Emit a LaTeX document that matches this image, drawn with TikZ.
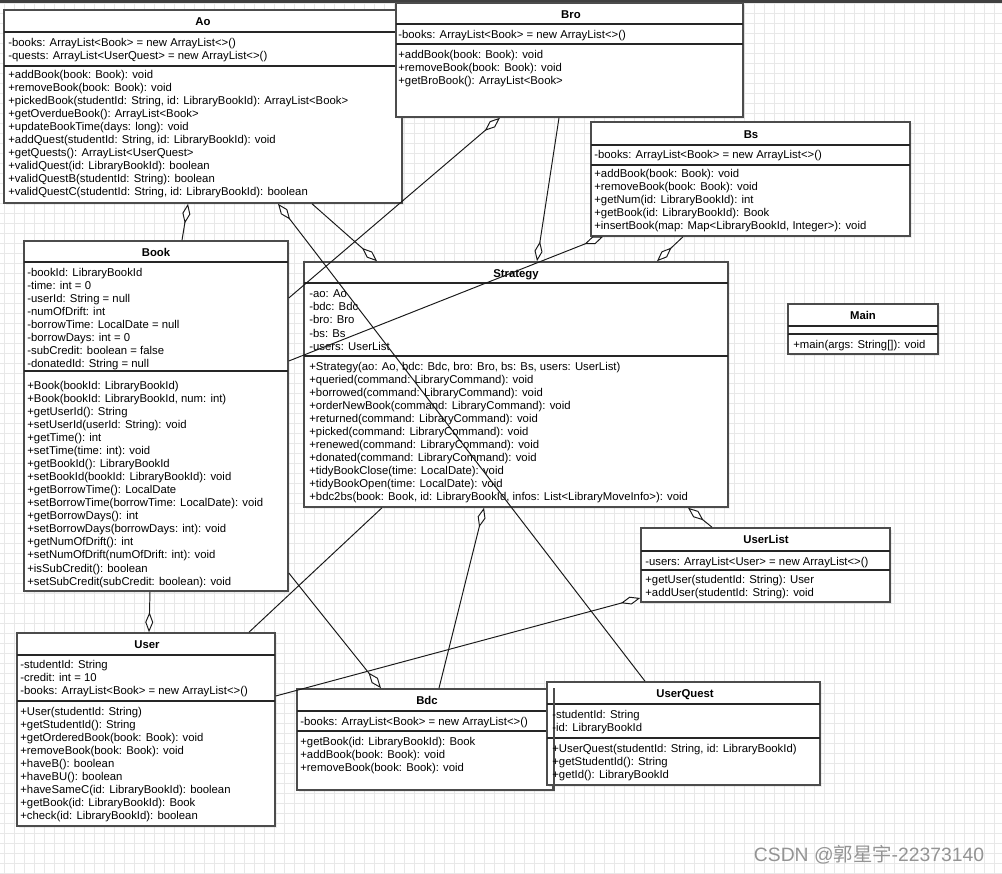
\documentclass[tikz,border=0pt]{standalone}
\usepackage{fontspec}
\setmainfont{Liberation Sans}
\newfontfamily\cjkfont{Noto Sans CJK SC}
\usetikzlibrary{arrows.meta,fit,shadows}
\newcommand{\umlfont}{\fontsize{6.45pt}{7.43pt}\selectfont}

\begin{document}
\begin{tikzpicture}[
    x=0.02cm, y=-0.02cm,
    every node/.style={font=\umlfont},
    classbox/.style={rectangle, draw=black!70, line width=0.9pt, fill=white, inner sep=0pt,
        drop shadow={opacity=0.12, shadow xshift=1.2pt, shadow yshift=-1.2pt}},
    classname/.style={font=\umlfont\bfseries, inner sep=0pt, text height=4.7pt, text depth=0pt},
    members/.style={anchor=north west, align=left, inner sep=0pt},
    sepline/.style={draw=black!85, line width=0.6pt},
    gridline/.style={draw=black!9, line width=0.4pt},
    assoc/.style={draw=black!90, line width=0.55pt},
    aggr/.style={assoc, {Diamond[fill=white, length=4mm, width=1.6mm]}-},
    watermark/.style={font=\fontsize{11pt}{13pt}\selectfont, text=black!42}
]

% background and grid
\useasboundingbox (0,0) rectangle (1002,874);
\fill[white] (0,0) rectangle (1002,874);
\foreach \gx in {4,14,...,1000} \draw[gridline] (\gx,0) -- (\gx,874);
\foreach \gy in {3,13,...,873} \draw[gridline] (0,\gy) -- (1002,\gy);
\fill[black!75] (0,0) rectangle (1002,3);

% === Ao ===
\node[classbox, fit={(4,10) (402,203)}] (ao) {};
\node[classname] (aoname) at (203,21) {Ao};
\draw[sepline] (4,32) -- (402,32);
\draw[sepline] (4,66) -- (402,66);
\node[members] (aoattr) at (8,37.7) {-books: ArrayList<Book> = new ArrayList<>()\\
-quests: ArrayList<UserQuest> = new ArrayList<>()};
\node[members] (aoops) at (8,69.7) {+addBook(book: Book): void\\
+removeBook(book: Book): void\\
+pickedBook(studentId: String, id: LibraryBookId): ArrayList<Book>\\
+getOverdueBook(): ArrayList<Book>\\
+updateBookTime(days: long): void\\
+addQuest(studentId: String, id: LibraryBookId): void\\
+getQuests(): ArrayList<UserQuest>\\
+validQuest(id: LibraryBookId): boolean\\
+validQuestB(studentId: String): boolean\\
+validQuestC(studentId: String, id: LibraryBookId): boolean};

% === Bro ===
\node[classbox, fit={(396,3) (743,117)}] (bro) {};
\node[classname] (broname) at (571,14) {Bro};
\draw[sepline] (396,24) -- (743,24);
\draw[sepline] (396,44) -- (743,44);
\node[members] (broattr) at (398,29.7) {-books: ArrayList<Book> = new ArrayList<>()};
\node[members] (broops) at (398,49.7) {+addBook(book: Book): void\\
+removeBook(book: Book): void\\
+getBroBook(): ArrayList<Book>};

% === Bs ===
\node[classbox, fit={(591,122) (910,236)}] (bs) {};
\node[classname] (bsname) at (751,134) {Bs};
\draw[sepline] (591,145) -- (910,145);
\draw[sepline] (591,165) -- (910,165);
\node[members] (bsattr) at (594,149.7) {-books: ArrayList<Book> = new ArrayList<>()};
\node[members] (bsops) at (594,168.7) {+addBook(book: Book): void\\
+removeBook(book: Book): void\\
+getNum(id: LibraryBookId): int\\
+getBook(id: LibraryBookId): Book\\
+insertBook(map: Map<LibraryBookId, Integer>): void};

% === Book ===
\node[classbox, fit={(24,241) (288,591)}] (book) {};
\node[classname] (bookname) at (156,252) {Book};
\draw[sepline] (24,262) -- (288,262);
\draw[sepline] (24,371) -- (288,371);
\node[members] (bookattr) at (27,267.7) {-bookId: LibraryBookId\\
-time: int = 0\\
-userId: String = null\\
-numOfDrift: int\\
-borrowTime: LocalDate = null\\
-borrowDays: int = 0\\
-subCredit: boolean = false\\
-donatedId: String = null};
\node[members] (bookops) at (27,380.7) {+Book(bookId: LibraryBookId)\\
+Book(bookId: LibraryBookId, num: int)\\
+getUserId(): String\\
+setUserId(userId: String): void\\
+getTime(): int\\
+setTime(time: int): void\\
+getBookId(): LibraryBookId\\
+setBookId(bookId: LibraryBookId): void\\
+getBorrowTime(): LocalDate\\
+setBorrowTime(borrowTime: LocalDate): void\\
+getBorrowDays(): int\\
+setBorrowDays(borrowDays: int): void\\
+getNumOfDrift(): int\\
+setNumOfDrift(numOfDrift: int): void\\
+isSubCredit(): boolean\\
+setSubCredit(subCredit: boolean): void};

% === Strategy ===
\node[classbox, fit={(304,262) (728,507)}] (strategy) {};
\node[classname] (strategyname) at (516,273) {Strategy};
\draw[sepline] (304,283) -- (728,283);
\draw[sepline] (304,356) -- (728,356);
\node[members] (strategyattr) at (309,289.7) {-ao: Ao\\
-bdc: Bdc\\
-bro: Bro\\
-bs: Bs\\
-users: UserList};
\node[members] (strategyops) at (309,361.7) {+Strategy(ao: Ao, bdc: Bdc, bro: Bro, bs: Bs, users: UserList)\\
+queried(command: LibraryCommand): void\\
+borrowed(command: LibraryCommand): void\\
+orderNewBook(command: LibraryCommand): void\\
+returned(command: LibraryCommand): void\\
+picked(command: LibraryCommand): void\\
+renewed(command: LibraryCommand): void\\
+donated(command: LibraryCommand): void\\
+tidyBookClose(time: LocalDate): void\\
+tidyBookOpen(time: LocalDate): void\\
+bdc2bs(book: Book, id: LibraryBookId, infos: List<LibraryMoveInfo>): void};

% === Main ===
\node[classbox, fit={(788,304) (938,354)}] (main) {};
\node[classname] (mainname) at (863,315) {Main};
\draw[sepline] (788,326) -- (938,326);
\draw[sepline] (788,334) -- (938,334);
\node[members] (mainops) at (793,339.7) {+main(args: String[]): void};

% === UserList ===
\node[classbox, fit={(641,528) (890,602)}] (userlist) {};
\node[classname] (userlistname) at (766,539) {UserList};
\draw[sepline] (641,551) -- (890,551);
\draw[sepline] (641,570) -- (890,570);
\node[members] (userlistattr) at (645,556.7) {-users: ArrayList<User> = new ArrayList<>()};
\node[members] (userlistops) at (645,574.7) {+getUser(studentId: String): User\\
+addUser(studentId: String): void};

% === User ===
\node[classbox, fit={(17,633) (275,826)}] (user) {};
\node[classname] (username) at (147,644) {User};
\draw[sepline] (17,655) -- (275,655);
\draw[sepline] (17,701) -- (275,701);
\node[members] (userattr) at (20,659.7) {-studentId: String\\
-credit: int = 10\\
-books: ArrayList<Book> = new ArrayList<>()};
\node[members] (userops) at (20,706.7) {+User(studentId: String)\\
+getStudentId(): String\\
+getOrderedBook(book: Book): void\\
+removeBook(book: Book): void\\
+haveB(): boolean\\
+haveBU(): boolean\\
+haveSameC(id: LibraryBookId): boolean\\
+getBook(id: LibraryBookId): Book\\
+check(id: LibraryBookId): boolean};

% === Bdc ===
\node[classbox, fit={(297,689) (553,790)}] (bdc) {};
\node[classname] (bdcname) at (427,700) {Bdc};
\draw[sepline] (297,711) -- (553,711);
\draw[sepline] (297,731) -- (553,731);
\node[members] (bdcattr) at (300,716.7) {-books: ArrayList<Book> = new ArrayList<>()};
\node[members] (bdcops) at (300,736.7) {+getBook(id: LibraryBookId): Book\\
+addBook(book: Book): void\\
+removeBook(book: Book): void};

% === UserQuest ===
\node[classbox, fit={(547,682) (820,785)}] (userquest) {};
\node[classname] (userquestname) at (685,693) {UserQuest};
\draw[sepline] (547,704) -- (820,704);
\draw[sepline] (547,738) -- (820,738);
\draw[draw=black!70, line width=0.9pt] (bdc.north east) -- (bdc.south east);
\node[members] (userquestattr) at (552,709.7) {-studentId: String\\
-id: LibraryBookId};
\node[members] (userquestops) at (552,743.7) {+UserQuest(studentId: String, id: LibraryBookId)\\
+getStudentId(): String\\
+getId(): LibraryBookId};

% === CONNECTORS ===

% Ao
\draw[aggr] (188,0 |- ao.south) -- (182,0 |- book.north);
\draw[aggr] (278,0 |- ao.south) -- (645,0 |- userquest.north);
\draw[aggr] (377,0 |- strategy.north) -- (312,0 |- ao.south);

% Bro
\draw[aggr] (500,0 |- bro.south) -- (book.east |- 0,298);
\draw[aggr] (537,0 |- strategy.north) -- (559,0 |- bro.south);

% Bs
\draw[aggr] (603,0 |- bs.south) -- (book.east |- 0,361);
\draw[aggr] (657,0 |- strategy.north) -- (683,0 |- bs.south);

% Book
\draw[aggr] (149,0 |- user.north) -- (150,0 |- book.south);
\draw[aggr] (381,0 |- bdc.north) -- (book.east |- 0,573);

% Strategy
\draw[assoc] (382,0 |- strategy.south) -- (249,0 |- user.north);
\draw[aggr] (484,0 |- strategy.south) -- (439,0 |- bdc.north);
\draw[aggr] (688,0 |- strategy.south) -- (712,0 |- userlist.north);

% UserList
\draw[aggr] (userlist.west |- 0,598) -- (user.east |- 0,696);

% watermark
\node[watermark] (csdn) at (869,855) {CSDN @{\cjkfont 郭星宇}-22373140};

\end{tikzpicture}
\end{document}
